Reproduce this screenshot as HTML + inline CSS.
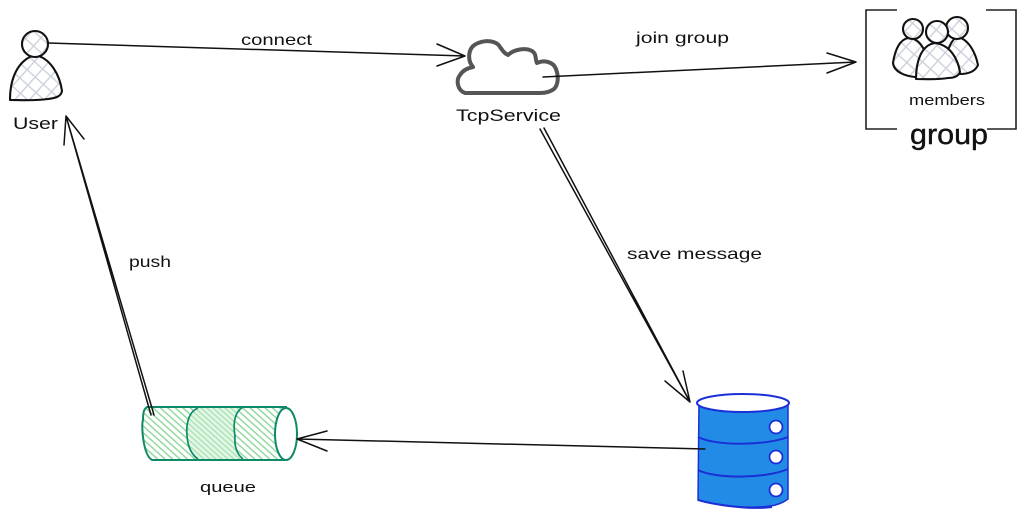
<!DOCTYPE html>
<html><head><meta charset="utf-8"><style>
html,body{margin:0;padding:0;background:#fff}
svg{display:block}
text{font-family:"Liberation Sans",sans-serif;fill:#111}
.k{fill:none;stroke:#111;stroke-width:1.5;stroke-linecap:round;stroke-linejoin:round}
.o{stroke:#111;stroke-width:2.1;stroke-linejoin:round}
</style></head><body>
<svg width="1026" height="519" viewBox="0 0 1026 519" xmlns="http://www.w3.org/2000/svg">
<defs>
<pattern id="x" width="11" height="11" patternUnits="userSpaceOnUse" patternTransform="rotate(42)">
<rect width="11" height="11" fill="#fff"/><path d="M0 0H11M0 0V11" stroke="#cdd1db" stroke-width="2.8"/>
</pattern>
<pattern id="g" width="5" height="5" patternUnits="userSpaceOnUse" patternTransform="rotate(42)">
<rect width="5" height="5" fill="#fff"/><path d="M0 0H5" stroke="#93d9a0" stroke-width="3"/>
</pattern>
<pattern id="g2" width="4" height="4" patternUnits="userSpaceOnUse" patternTransform="rotate(42)">
<rect width="4" height="4" fill="#e4f7e7"/><path d="M0 0H4" stroke="#a5e2b0" stroke-width="2.6"/>
</pattern>
</defs>

<!-- User -->
<path class="o" fill="url(#x)" d="M10 100C10 78 18 60 35 55C51 58 60 76 62 91C61 97 55 98 48 99C35 101 20 100 10 100Z"/>
<circle class="o" fill="url(#x)" cx="35" cy="44" r="13"/>
<text x="13" y="129" font-size="17" textLength="45" lengthAdjust="spacingAndGlyphs">User</text>

<!-- Cloud -->
<path fill="#fff" stroke="#555" stroke-width="4" stroke-linejoin="round" stroke-linecap="round" d="M465 93C457 90 456 80 460 75C463 70 468 68 473 67C467 60 468 48 476 44C486 39 497 41 500 47C503 51 504 53 508 55C513 50 525 47 532 51C537 54 535 60 537 63C543 60 553 61 556 69C559 77 558 85 554 89C550 92 546 93 540 93Z"/>
<text x="456" y="121" font-size="17" textLength="105" lengthAdjust="spacingAndGlyphs">TcpService</text>

<!-- Group frame -->
<path fill="none" stroke="#222" stroke-width="1.6" d="M897 10H866V129H897M986 10H1016V129H987"/>
<path class="o" fill="url(#x)" d="M893 63C895 50 899 40 908 38C920 38 925 50 928 60C926 70 920 77 915 77C905 76 894 72 893 63Z"/>
<path class="o" fill="url(#x)" d="M945 60C948 48 952 38 958 37C970 40 976 55 978 65C975 72 968 74 960 74C950 74 946 70 945 60Z"/>
<circle class="o" fill="url(#x)" cx="913" cy="29" r="10"/>
<circle class="o" fill="url(#x)" cx="957" cy="28" r="11"/>
<path class="o" fill="url(#x)" d="M916 79C916 62 921 45 935 43C951 45 958 60 960 72C958 77 953 78 948 78C937 80 925 79 916 79Z"/>
<circle class="o" fill="url(#x)" cx="937" cy="32" r="11"/>
<text x="909" y="105" font-size="15" textLength="76" lengthAdjust="spacingAndGlyphs">members</text>
<text x="910" y="144" font-size="29" textLength="78" lengthAdjust="spacingAndGlyphs" stroke="#111" stroke-width=".4">group</text>

<!-- Database -->
<path fill="#228be6" stroke="#1c2fd6" stroke-width="1.5" d="M699 403L698 500C720 506 750 509 770 506C778 505 784 502 788 499L788 402C770 412 720 414 699 403Z"/>
<path fill="none" stroke="#1c2fd6" stroke-width="2" d="M698 437C715 446 765 446 788 437M698 470C715 479 765 479 788 469M698 500C715 505 750 510 772 507"/>
<ellipse cx="743" cy="403" rx="46" ry="9" fill="#fff" stroke="#1c2fd6" stroke-width="2"/>
<circle cx="776" cy="427" r="6.5" fill="#fff" stroke="#1c2fd6" stroke-width="1.8"/>
<circle cx="776" cy="457" r="6.5" fill="#fff" stroke="#1c2fd6" stroke-width="1.8"/>
<circle cx="776" cy="490" r="6.5" fill="#fff" stroke="#1c2fd6" stroke-width="1.8"/>

<!-- Queue -->
<path fill="url(#g)" d="M147 407L286 407C280 420 280 450 287 460L152 460C143 455 141 425 143 420C143 412 144 409 147 407Z"/>
<path fill="url(#g2)" d="M198 408L243 407C234 412 233 425 235 436C234 448 238 457 243 459L198 459C192 457 188 448 187 436C186 425 188 412 198 408Z"/>
<path fill="none" stroke="#0f8a68" stroke-width="2" d="M287 407L147 407C144 409 143 412 143 420C141 425 143 455 152 460L287 460"/>
<path fill="none" stroke="#0f8a68" stroke-width="1.7" d="M198 408C188 412 186 425 187 436C188 448 192 455 198 459M243 407C234 412 233 425 235 436C234 448 238 455 243 459"/>
<ellipse cx="286" cy="434" rx="11" ry="26" fill="#fff" stroke="#0f8a68" stroke-width="2"/>
<text x="200" y="492" font-size="15" textLength="56" lengthAdjust="spacingAndGlyphs">queue</text>

<!-- Arrows -->
<path class="k" d="M48 43L465 56M437 44L465 56L437 66"/>
<path class="k" d="M543 77L856 62M827 53L856 62L827 73"/>
<path class="k" d="M540 129L690 402M544 128L690 402M665 381L690 402L683 371"/>
<path class="k" d="M154 415L66 116M151 415L66 116M64 145L66 116L84 139"/>
<path class="k" d="M705 449L297 439M327 431L297 439L327 451"/>

<text x="241" y="45" font-size="16" textLength="71" lengthAdjust="spacingAndGlyphs">connect</text>
<text x="636" y="43" font-size="16" textLength="93" lengthAdjust="spacingAndGlyphs">join group</text>
<text x="627" y="259" font-size="16" textLength="135" lengthAdjust="spacingAndGlyphs">save message</text>
<text x="129" y="267" font-size="16" textLength="42" lengthAdjust="spacingAndGlyphs">push</text>
</svg>
</body></html>
